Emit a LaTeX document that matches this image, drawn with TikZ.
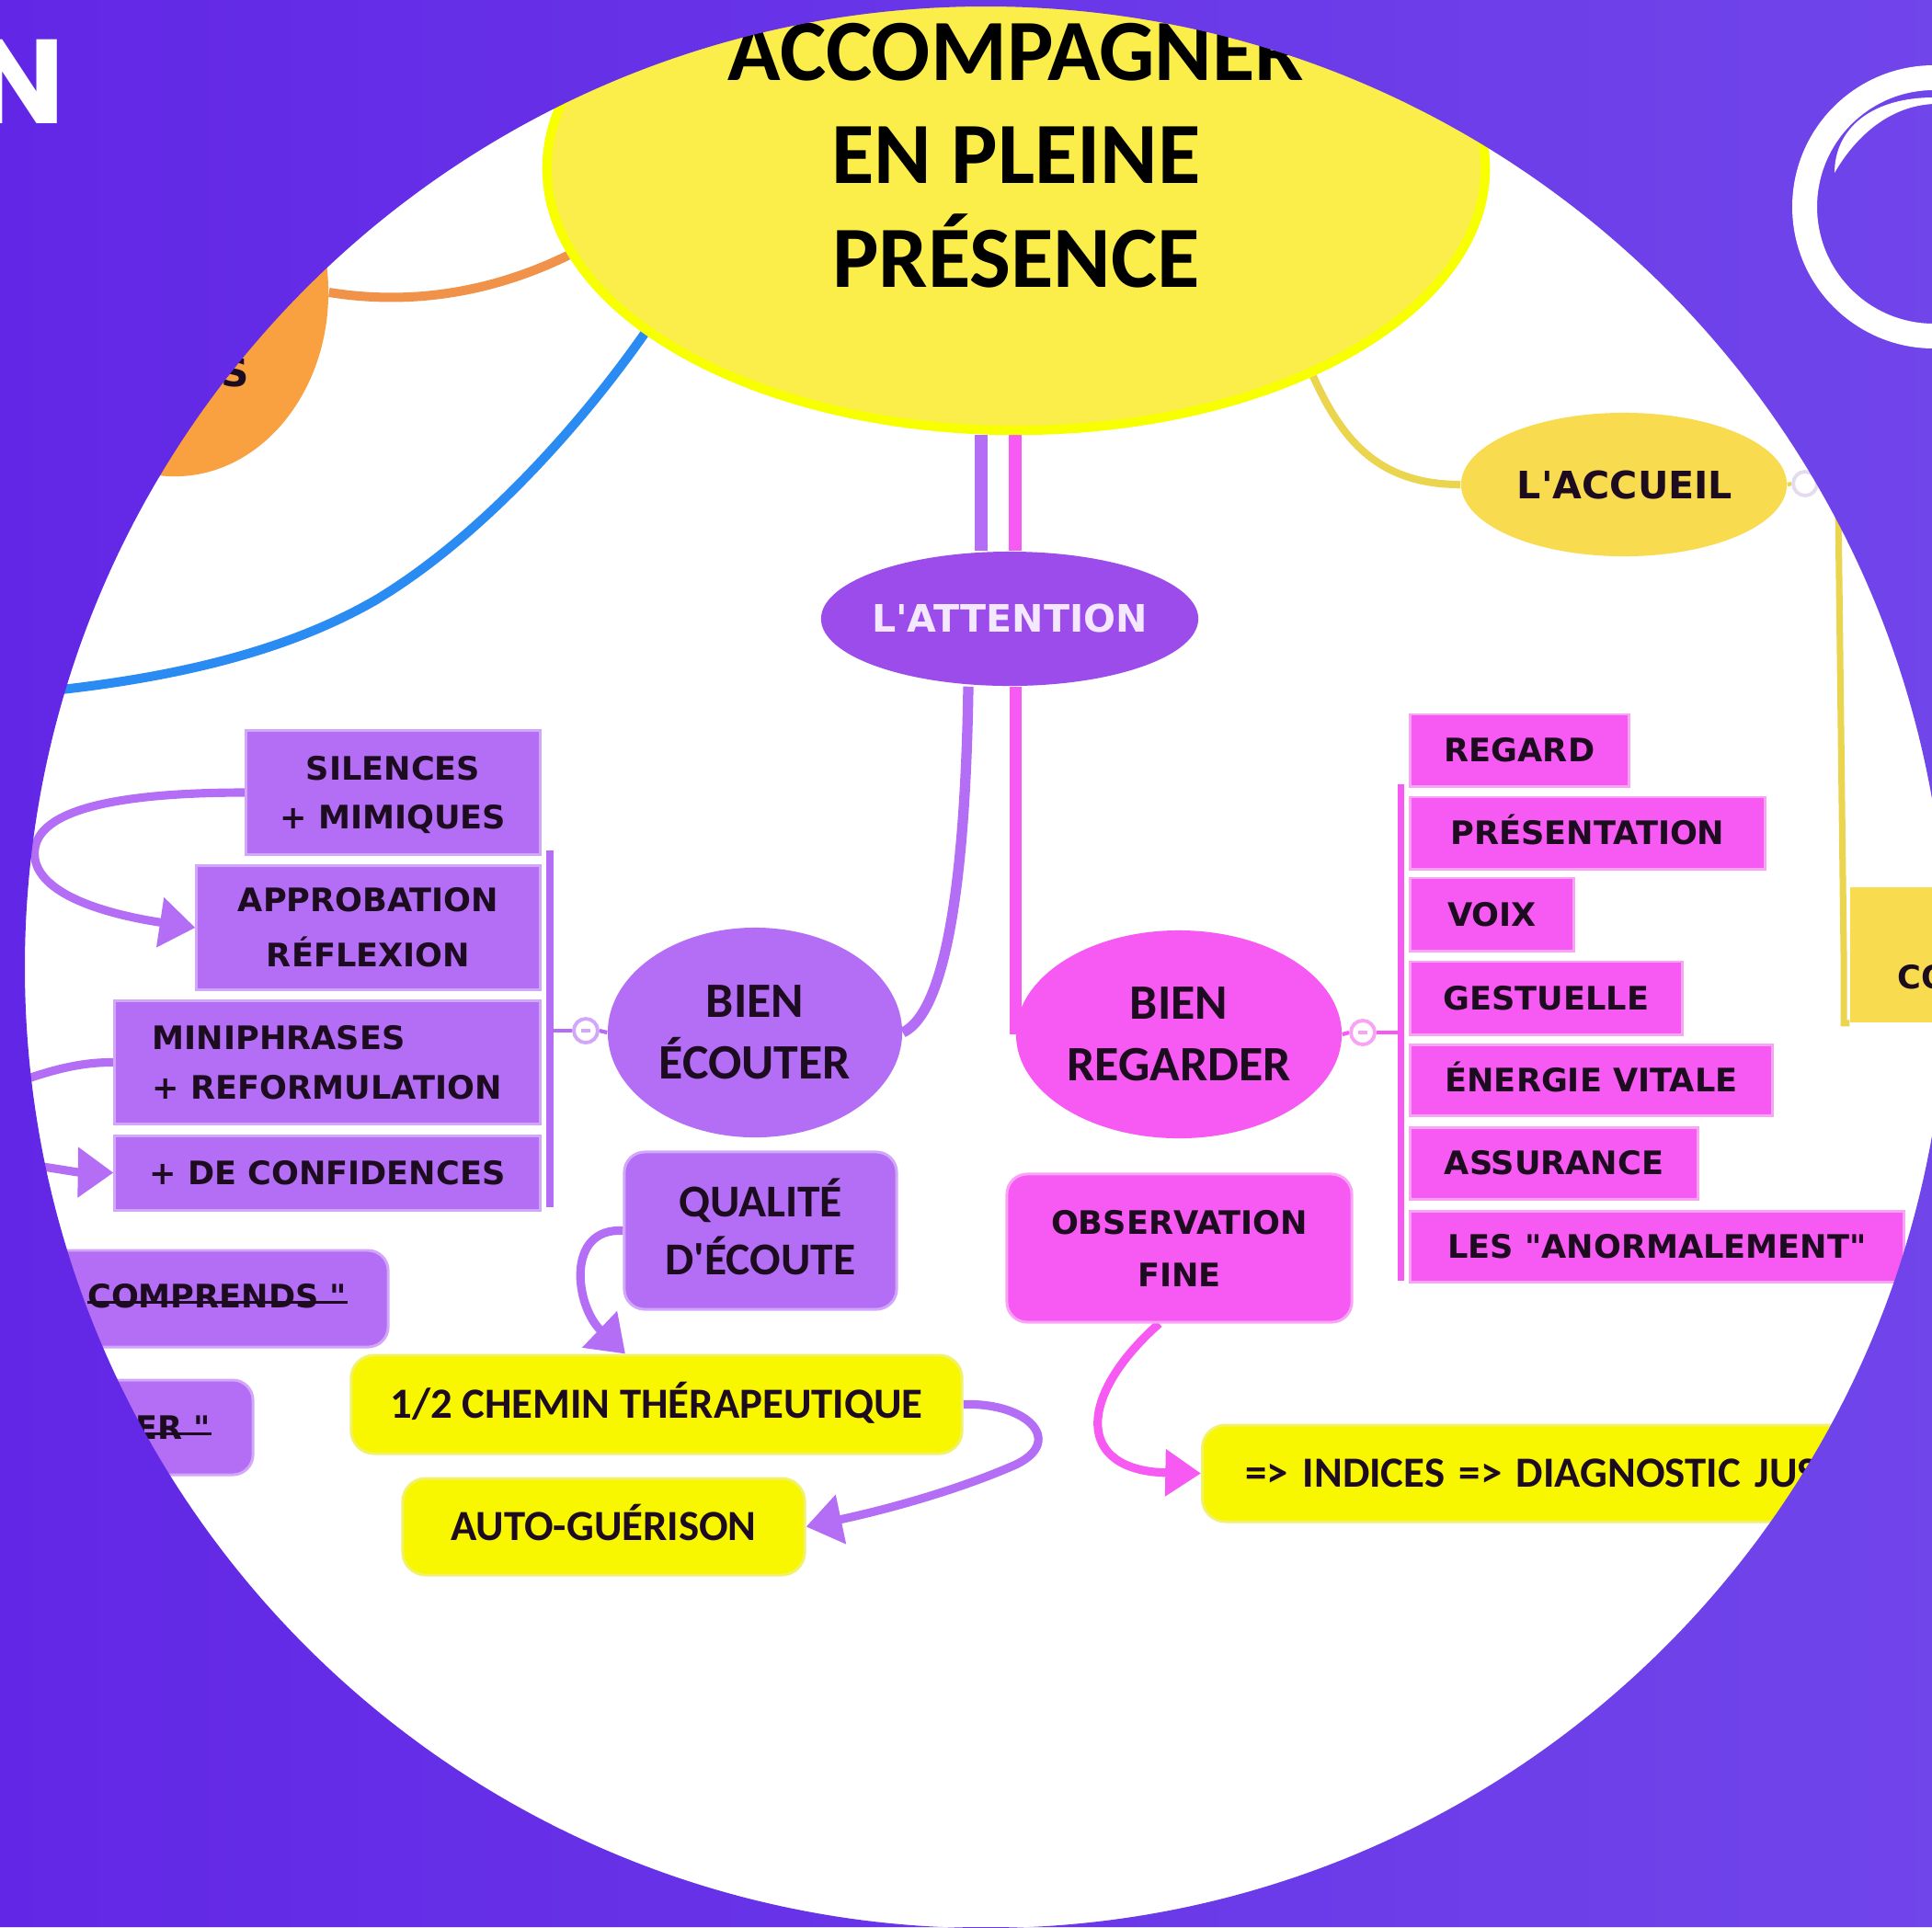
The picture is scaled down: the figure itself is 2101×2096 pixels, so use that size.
\documentclass[tikz,border=0pt]{standalone}
\usepackage{fontspec}
\newfontfamily\vfont{DejaVu Sans}
\newfontfamily\cfont{Carlito}
\newfontfamily\pfont{Poppins}
\usetikzlibrary{shapes.geometric,arrows.meta,calc}
\pgfdeclarelayer{bg}
\pgfdeclarelayer{fg}
\pgfsetlayers{bg,main,fg}

\definecolor{bgL}{HTML}{6227E6}
\definecolor{bgR}{HTML}{7045EA}
\definecolor{rootfill}{HTML}{FCEE4A}
\definecolor{rootedge}{HTML}{F8FF00}
\definecolor{lav}{HTML}{B46EF6}
\definecolor{lavedge}{HTML}{D2A6F9}
\definecolor{violet}{HTML}{9B4CEB}
\definecolor{pink}{HTML}{F65AF2}
\definecolor{pinkedge}{HTML}{F9A3F5}
\definecolor{gold}{HTML}{F8DB4F}
\definecolor{goldline}{HTML}{EBD54E}
\definecolor{goldedge}{HTML}{E4DCEE}
\definecolor{lemon}{HTML}{F8F700}
\definecolor{lemonedge}{HTML}{F1F16A}
\definecolor{orng}{HTML}{F9A041}
\definecolor{orngline}{HTML}{F0924A}
\definecolor{blueline}{HTML}{2A8BF2}
\definecolor{ink}{HTML}{1D0B20}
\definecolor{paleink}{HTML}{F4E8FF}

\begin{document}
\begin{tikzpicture}[x=0.01cm, y=-0.01cm,
  ell/.style={ellipse, inner sep=0pt},
  txt/.style={inner sep=0pt, text=ink, align=center},
  vlbl/.style={font=\vfont\bfseries\fontsize{10}{15.5}\selectfont},
  oneline/.style={text height=7.3pt, text depth=0pt},
  sqbox/.style={rectangle, fill=lav, draw=lavedge, line width=0.85pt, inner sep=0pt,
    text=ink, align=center, vlbl},
  pkbox/.style={rectangle, fill=pink, draw=pinkedge, line width=0.85pt, inner sep=0pt,
    text=ink, vlbl, oneline},
  ybox/.style={rectangle, rounded corners=0.25cm, fill=lemon, draw=lemonedge, line width=0.85pt,
    inner sep=0pt, text=ink, font=\cfont\bfseries\fontsize{13.3}{16}\selectfont,
    text height=8.6pt, text depth=0pt},
  rlav/.style={rectangle, rounded corners=0.22cm, fill=lav, draw=lavedge, line width=0.85pt, inner sep=0pt},
  collapse/.style={circle, fill=white, minimum size=0.26cm, inner sep=0pt, line width=1.1pt},
  lavline/.style={draw=lav, line width=2.6pt},
  lavarrow/.style={lavline, -{Triangle[length=11pt,width=15pt]}},
  pinkarrow/.style={draw=pink, line width=2.6pt, -{Triangle[length=11pt,width=14pt]}},
  bracket/.style={line width=2pt},
]
\useasboundingbox (0,0) rectangle (2101,2096);

% ---------- central topic ----------
\node[ell, fill=rootfill, draw=rootedge, line width=2.85pt,
      minimum width=10.2cm, minimum height=5.7cm] (root) at (1105,183) {};
\node[txt, text=black, font=\cfont\bfseries\fontsize{27}{31.9}\selectfont]
      (roottext) at (1105,169) {ACCOMPAGNER\\EN PLEINE\\PRÉSENCE};

% ---------- side branches ----------
\node[ell, fill=orng, minimum width=3.34cm, minimum height=4cm] (orng) at (190,318) {};
\node[inner sep=0pt, anchor=east, text=ink, font=\vfont\bfseries\fontsize{12}{14}\selectfont]
      (orngtext) at (272,405) {ES};

\node[ell, fill=gold, minimum width=3.54cm, minimum height=1.56cm] (accueil) at (1766,527) {};
\node[txt, font=\vfont\bfseries\fontsize{11.7}{14}\selectfont, text height=8.5pt, text depth=0pt]
      (accueiltext) at (1767,528) {L'ACCUEIL};
\node[collapse, draw=goldedge] (acC) at (1963,526) {};
\node[rectangle, fill=gold, minimum width=2cm, minimum height=1.47cm, inner sep=0pt]
      (co) at (2112,1038.5) {};
\node[inner sep=0pt, anchor=west, text=ink, vlbl, oneline] (cotext) at (2063,1063) {CO};

% ---------- L'ATTENTION ----------
\node[ell, fill=violet, minimum width=4.1cm, minimum height=1.46cm] (attention) at (1098,673) {};
\node[txt, text=paleink, font=\vfont\bfseries\fontsize{11.7}{14}\selectfont, text height=8.5pt, text depth=0pt]
      (attentiontext) at (1098,673) {L'ATTENTION};

\node[ell, fill=lav, minimum width=3.2cm, minimum height=2.28cm] (ecouter) at (821,1123) {};
\node[txt, font=\cfont\bfseries\fontsize{15.3}{19}\selectfont] (ecoutertext) at (821,1123) {BIEN\\ÉCOUTER};

\node[ell, fill=pink, minimum width=3.54cm, minimum height=2.26cm] (regarder) at (1282,1125) {};
\node[txt, font=\cfont\bfseries\fontsize{15.3}{19}\selectfont] (regardertext) at (1282,1125) {BIEN\\REGARDER};

\node[collapse, draw=lavedge] (ecC) at (637,1121) {};
\node[collapse, draw=pinkedge] (rgC) at (1482,1123) {};
\draw[lavedge, line width=1pt] ($(ecC)+(-5,0)$) -- ($(ecC)+(5,0)$);
\draw[pinkedge, line width=1pt] ($(rgC)+(-5,0)$) -- ($(rgC)+(5,0)$);

% ---------- listening column ----------
\node[sqbox, minimum width=3.19cm, minimum height=1.34cm, font=\vfont\bfseries\fontsize{10}{15}\selectfont]
      (sil) at (427.5,862) {SILENCES\\+ MIMI\smash{Q}UES};
\node[sqbox, minimum width=3.73cm, minimum height=1.34cm, font=\vfont\bfseries\fontsize{10}{17}\selectfont]
      (appr) at (400.5,1009) {APPROBATION\\RÉFLEXION};
\node[sqbox, align=left, minimum width=4.62cm, minimum height=1.33cm]
      (mini) at (356,1155.5) {MINIPHRASES\\+ REFORMULATION};
\node[sqbox, oneline, minimum width=4.62cm, minimum height=0.81cm]
      (conf) at (356,1275.5) {+ DE CONFIDENCES};

\node[rlav, minimum width=5.22cm, minimum height=1.05cm] (compr) at (161,1412.5) {};
\node[inner sep=0pt, anchor=east, text=ink, vlbl, oneline] (comprtext) at (378,1410) {COMPRENDS "};
\node[rlav, minimum width=3.75cm, minimum height=1.03cm] (er) at (87.5,1552.5) {};
\node[inner sep=0pt, anchor=east, text=ink, vlbl, oneline] (ertext) at (230,1553) {ER "};
\draw[ink, line width=0.8pt] ($(comprtext.base west)+(0,-6)$) -- ($(comprtext.base east)+(0,-6)$);
\draw[ink, line width=0.8pt] ($(ertext.base west)+(0,-6)$) -- ($(ertext.base east)+(0,-6)$);

\node[rlav, minimum width=2.96cm, minimum height=1.71cm, text=ink, align=center,
      font=\cfont\bfseries\fontsize{14.1}{17.9}\selectfont]
      (qual) at (827,1338.5) {QUALIT\smash{É}\\D'ÉCOUTE};
\node[ybox, minimum width=6.64cm, minimum height=1.07cm] (chemin) at (714,1527.5) {1/2 CHEMIN THÉRAPEUTIQUE};
\node[ybox, minimum width=4.37cm, minimum height=1.05cm] (auto) at (656.5,1660.5) {AUTO-GUÉRISON};

% ---------- looking column ----------
\node[pkbox, minimum width=2.37cm, minimum height=0.78cm] (regard) at (1652.5,816) {REGARD};
\node[pkbox, minimum width=3.85cm, minimum height=0.78cm] (presentation) at (1726.5,906) {PRÉSENTATION};
\node[pkbox, minimum width=1.77cm, minimum height=0.79cm] (voix) at (1622.5,994.5) {VOIX};
\node[pkbox, minimum width=2.95cm, minimum height=0.79cm] (gestuelle) at (1681.5,1085.5) {GESTUELLE};
\node[pkbox, minimum width=3.93cm, minimum height=0.77cm] (energie) at (1730.5,1174.5) {ÉNERGIE VITALE};
\node[pkbox, minimum width=3.12cm, minimum height=0.78cm] (assurance) at (1690,1265) {ASSURANCE};
\node[pkbox, minimum width=5.36cm, minimum height=0.77cm] (anormal) at (1802,1355.5) {LES "ANORMALEMENT"};

\node[rectangle, rounded corners=0.22cm, fill=pink, draw=pinkedge, line width=0.85pt, inner sep=0pt,
      minimum width=3.75cm, minimum height=1.61cm, text=ink, align=center,
      font=\vfont\bfseries\fontsize{10}{16.2}\selectfont]
      (obs) at (1282.5,1357.5) {OBSERVATION\\FINE};
\node[ybox, anchor=west, align=left, text width=7.5cm, inner xsep=0.47cm, inner ysep=0pt,
      minimum height=1.05cm, font=\cfont\bfseries\fontsize{13.3}{16}\selectfont]
      (indices) at (1306,1602.5) {=> INDICES => DIAGNOSTIC JUS};

% ---------- free ends of connectors ----------
\coordinate (blueEnd) at (-20,758);
\coordinate (miniIn) at (-20,1192);
\coordinate (confIn) at (-20,1262);
\coordinate (lbTop) at (598,925);
\coordinate (lbBot) at (598,1313);
\coordinate (pbTop) at (1523,853);
\coordinate (pbBot) at (1523,1393);

% ---------- connectors ----------
\begin{pgfonlayer}{bg}
  \fill[white] (1072,1052) circle[radius=1045];

  \draw[orngline, line width=2.85pt] (orng.east) .. controls (470,336) and (560,306) .. (root.191);
  \draw[blueline, line width=2.85pt] (root.204) .. controls (640,450) and (530,580) .. (408,653)
        .. controls (300,715) and (160,745) .. (blueEnd);
  \draw[goldline, line width=2.3pt] (root.325) .. controls (1460,480) and (1500,527) .. (accueil.west);
  \draw[goldline, line width=1.2pt] (accueil.east) -- (acC.west);
  \draw[goldline, line width=2pt] (acC.east) -- (1985,526) .. controls (1998,526) and (1999,535) .. (1999,550)
        -- (co.west -| 2005,0) |- (co.south west);

  \draw[lav, line width=4pt] ($(root.south)+(-38,0)$) -- ($(attention.north)+(-31,0)$);
  \draw[pink, line width=4pt] (regarder.west |- root.south) -- (regarder.west |- attention.north);
  \draw[lav, line width=3.2pt] ($(attention.south)+(-45,0)$) .. controls (1050,950) and (1030,1100) .. (ecouter.east);
  \draw[pink, line width=3.6pt] (regarder.west |- attention.south) -- (regarder.west);

  \draw[lav, bracket] (lbTop) -- (lbBot);
  \draw[lav, line width=1.2pt] (ecC.west) -- (ecC.west -| lbTop);
  \draw[lav, line width=1.2pt] (ecouter.west) -- (ecC.east);
  \draw[pink, bracket] (pbTop) -- (pbBot);
  \draw[pink, line width=1.2pt] (rgC.east) -- (rgC.east -| pbTop);
  \draw[pink, line width=1.2pt] (regarder.east) -- (rgC.west);

  \draw[lavarrow] (sil.west) .. controls (130,862) and (30,880) .. (38,934)
        .. controls (45,975) and (120,995) .. (appr.west);
  \draw[lavline] (miniIn) .. controls (40,1168) and (80,1155) .. (mini.west);
  \draw[lavarrow] (confIn) .. controls (40,1266) and (80,1275) .. (conf.west);
  \draw[lavarrow] (qual.west) .. controls (615,1335) and (625,1420) .. ($(chemin.north)+(-34,0)$);
  \draw[lavarrow] (chemin.east) .. controls (1120,1525) and (1160,1570) .. (1100,1595)
        .. controls (1030,1625) and (950,1645) .. (auto.east);
  \draw[pinkarrow] ($(obs.south)+(-22,0)$) .. controls (1170,1520) and (1170,1600) .. (indices.west);
\end{pgfonlayer}

% ---------- frame, ring and corner letter ----------
\begin{pgfonlayer}{fg}
  \shade[left color=bgL, right color=bgR, even odd rule]
        (0,0) rectangle (2101,2096) (1072,1052) circle[radius=1045];
  \fill[white, even odd rule] (2103,225) circle[radius=154] (2103,225) circle[radius=127];
  \fill[white] (1995,188) .. controls (1995,140) and (2035,106) .. (2103,106)
        -- (2103,113) .. controls (2055,115) and (2018,148) .. (1995,188) -- cycle;
  \node[inner sep=0pt, anchor=base east, text=white, font=\pfont\bfseries\fontsize{37}{37}\selectfont]
        (cornerN) at (71,134) {N};
\end{pgfonlayer}
\end{tikzpicture}
\end{document}
